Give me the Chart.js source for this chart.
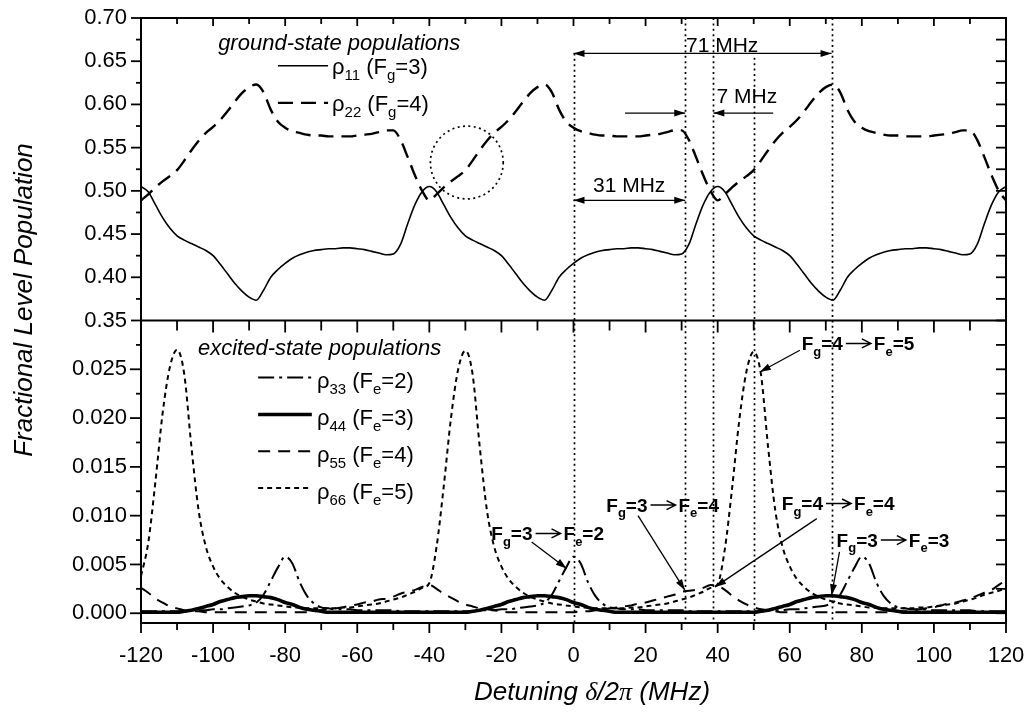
<!DOCTYPE html>
<html>
<head>
<meta charset="utf-8">
<script src="https://cdn.jsdelivr.net/npm/chart.js@4.4.1/dist/chart.umd.min.js"></script>
<style>
  html, body { margin: 0; padding: 0; background: #fff; }
  #wrap { width: 1026px; height: 713px; }
</style>
</head>
<body>
<div id="wrap"><canvas id="popChart" width="1026" height="713"></canvas></div>
<script>
// detuning grid (MHz)
const detuning = [
  -120,-118,-116,-114,-112,-110,-108,-106,-104,-102,
  -100,-98,-96,-94,-92,-90,-88,-86,-84,-82,
  -80,-78,-76,-74,-72,-70,-68,-66,-64,-62,
  -60,-58,-56,-54,-52,-50,-48,-46,-44,-42,
  -40,-38,-36,-34,-32,-30,-28,-26,-24,-22,
  -20,-18,-16,-14,-12,-10,-8,-6,-4,-2,
  0,2,4,6,8,10,12,14,16,18,
  20,22,24,26,28,30,32,34,36,38,
  40,42,44,46,48,50,52,54,56,58,
  60,62,64,66,68,70,72,74,76,78,
  80,82,84,86,88,90,92,94,96,98,
  100,102,104,106,108,110,112,114,116,118,
  120
];

// ground-state populations
const rho11 = [
  0.505,0.499,0.484,0.469,0.457,0.448,0.443,0.439,0.435,0.431,
  0.425,0.415,0.404,0.393,0.384,0.377,0.3735,0.385,0.400,0.409,
  0.416,0.422,0.426,0.429,0.431,0.432,0.433,0.433,0.434,0.434,
  0.433,0.432,0.430,0.428,0.426,0.427,0.438,0.462,0.484,0.499,
  0.505,0.499,0.484,0.469,0.457,0.448,0.443,0.439,0.435,0.431,
  0.425,0.415,0.404,0.393,0.384,0.377,0.3735,0.385,0.400,0.409,
  0.416,0.422,0.426,0.429,0.431,0.432,0.433,0.433,0.434,0.434,
  0.433,0.432,0.430,0.428,0.426,0.427,0.438,0.462,0.484,0.499,
  0.505,0.499,0.484,0.469,0.457,0.448,0.443,0.439,0.435,0.431,
  0.425,0.415,0.404,0.393,0.384,0.377,0.3735,0.385,0.400,0.409,
  0.416,0.422,0.426,0.429,0.431,0.432,0.433,0.433,0.434,0.434,
  0.433,0.432,0.430,0.428,0.426,0.427,0.438,0.462,0.484,0.499,
  0.505
];
const rho22 = [
  0.489,0.496,0.504,0.511,0.517,0.524,0.535,0.547,0.558,0.567,
  0.574,0.582,0.592,0.603,0.613,0.620,0.623,0.614,0.594,0.580,
  0.573,0.569,0.567,0.565,0.564,0.564,0.563,0.563,0.563,0.563,
  0.564,0.565,0.566,0.568,0.570,0.570,0.559,0.539,0.518,0.500,
  0.489,0.496,0.504,0.511,0.517,0.524,0.535,0.547,0.558,0.567,
  0.574,0.582,0.592,0.603,0.613,0.620,0.623,0.614,0.594,0.580,
  0.573,0.569,0.567,0.565,0.564,0.564,0.563,0.563,0.563,0.563,
  0.564,0.565,0.566,0.568,0.570,0.570,0.559,0.539,0.518,0.500,
  0.489,0.496,0.504,0.511,0.517,0.524,0.535,0.547,0.558,0.567,
  0.574,0.582,0.592,0.603,0.613,0.620,0.623,0.614,0.594,0.580,
  0.573,0.569,0.567,0.565,0.564,0.564,0.563,0.563,0.563,0.563,
  0.564,0.565,0.566,0.568,0.570,0.570,0.559,0.539,0.518,0.500,
  0.489
];

// excited-state populations
const rho33 = [
  0.0002,0.0002,0.0002,0.0002,0.0002,0.0002,0.0002,0.0003,0.0003,0.0003,
  0.0004,0.0004,0.0005,0.0006,0.0007,0.0008,0.0011,0.0019,0.0033,0.0047,
  0.0058,0.0051,0.0032,0.0018,0.0010,0.0006,0.0005,0.0004,0.0004,0.0004,
  0.0003,0.0003,0.0003,0.0003,0.0003,0.0003,0.0002,0.0002,0.0002,0.0002,
  0.0002,0.0002,0.0002,0.0002,0.0002,0.0002,0.0002,0.0003,0.0003,0.0003,
  0.0004,0.0004,0.0005,0.0006,0.0007,0.0008,0.0011,0.0019,0.0033,0.0047,
  0.0058,0.0051,0.0032,0.0018,0.0010,0.0006,0.0005,0.0004,0.0004,0.0004,
  0.0003,0.0003,0.0003,0.0003,0.0003,0.0003,0.0002,0.0002,0.0002,0.0002,
  0.0002,0.0002,0.0002,0.0002,0.0002,0.0002,0.0002,0.0003,0.0003,0.0003,
  0.0004,0.0004,0.0005,0.0006,0.0007,0.0008,0.0011,0.0019,0.0033,0.0047,
  0.0058,0.0051,0.0032,0.0018,0.0010,0.0006,0.0005,0.0004,0.0004,0.0004,
  0.0003,0.0003,0.0003,0.0003,0.0003,0.0003,0.0002,0.0002,0.0002,0.0002,
  0.0002
];
const rho44 = [
  0.0001,0.0001,0.0001,0.0001,0.0001,0.0001,0.0002,0.0003,0.0005,0.0007,
  0.0009,0.0012,0.0014,0.0016,0.0017,0.0018,0.0018,0.0017,0.0016,0.0014,
  0.0011,0.0009,0.0006,0.0004,0.0003,0.0002,0.0001,0.0001,0.0001,0.0001,
  0.0001,0.0001,0.0001,0.0001,0.0001,0.0001,0.0001,0.0001,0.0001,0.0001,
  0.0001,0.0001,0.0001,0.0001,0.0001,0.0001,0.0002,0.0003,0.0005,0.0007,
  0.0009,0.0012,0.0014,0.0016,0.0017,0.0018,0.0018,0.0017,0.0016,0.0014,
  0.0011,0.0009,0.0006,0.0004,0.0003,0.0002,0.0001,0.0001,0.0001,0.0001,
  0.0001,0.0001,0.0001,0.0001,0.0001,0.0001,0.0001,0.0001,0.0001,0.0001,
  0.0001,0.0001,0.0001,0.0001,0.0001,0.0001,0.0002,0.0003,0.0005,0.0007,
  0.0009,0.0012,0.0014,0.0016,0.0017,0.0018,0.0018,0.0017,0.0016,0.0014,
  0.0011,0.0009,0.0006,0.0004,0.0003,0.0002,0.0001,0.0001,0.0001,0.0001,
  0.0001,0.0001,0.0001,0.0001,0.0001,0.0001,0.0001,0.0001,0.0001,0.0001,
  0.0001
];
const rho55 = [
  0.0026,0.0021,0.0015,0.0011,0.0007,0.0005,0.0003,0.0002,0.0002,0.0001,
  0.0001,0.0001,0.0001,0.0001,0.0001,0.0001,0.0001,0.0001,0.0001,0.0001,
  0.0001,0.0001,0.0001,0.0001,0.0002,0.0003,0.0004,0.0005,0.0006,0.0008,
  0.0009,0.0011,0.0012,0.0014,0.0015,0.0017,0.0020,0.0022,0.0024,0.0027,
  0.0029,0.0025,0.0020,0.0016,0.0012,0.0009,0.0007,0.0005,0.0004,0.0003,
  0.0002,0.0001,0.0001,0.0001,0.0001,0.0001,0.0001,0.0001,0.0001,0.0001,
  0.0001,0.0002,0.0002,0.0003,0.0004,0.0005,0.0006,0.0007,0.0008,0.0010,
  0.0011,0.0013,0.0015,0.0017,0.0019,0.0022,0.0023,0.0024,0.0026,0.0029,
  0.0028,0.0024,0.0018,0.0013,0.0009,0.0006,0.0004,0.0003,0.0002,0.0001,
  0.0001,0.0001,0.0001,0.0001,0.0001,0.0001,0.0001,0.0001,0.0001,0.0001,
  0.0001,0.0001,0.0001,0.0001,0.0001,0.0002,0.0002,0.0003,0.0004,0.0005,
  0.0006,0.0008,0.0010,0.0011,0.0013,0.0015,0.0018,0.0021,0.0024,0.0029,
  0.0034
];
const rho66 = [
  0.0038,0.0072,0.0135,0.0205,0.0252,0.0270,0.0245,0.0170,0.0105,0.0068,
  0.0048,0.0035,0.0027,0.0021,0.0017,0.0014,0.0012,0.0010,0.0009,0.0008,
  0.0007,0.0006,0.0006,0.0005,0.0005,0.0005,0.0005,0.0005,0.0006,0.0006,
  0.0007,0.0008,0.0009,0.0010,0.0012,0.0014,0.0016,0.0019,0.0022,0.0026,
  0.0031,0.0068,0.0130,0.0200,0.0250,0.0269,0.0245,0.0170,0.0105,0.0068,
  0.0048,0.0035,0.0027,0.0021,0.0017,0.0014,0.0012,0.0010,0.0009,0.0008,
  0.0007,0.0006,0.0006,0.0005,0.0005,0.0005,0.0005,0.0005,0.0006,0.0006,
  0.0007,0.0008,0.0009,0.0010,0.0012,0.0014,0.0016,0.0019,0.0022,0.0026,
  0.0030,0.0066,0.0128,0.0198,0.0248,0.0268,0.0245,0.0170,0.0105,0.0068,
  0.0048,0.0035,0.0027,0.0021,0.0017,0.0014,0.0012,0.0010,0.0009,0.0008,
  0.0007,0.0006,0.0006,0.0005,0.0005,0.0005,0.0005,0.0005,0.0006,0.0006,
  0.0007,0.0008,0.0009,0.0010,0.0012,0.0014,0.0016,0.0019,0.0021,0.0023,
  0.0026
];

// axis ticks
const xTicks = [-120,-100,-80,-60,-40,-20,0,20,40,60,80,100,120];
const topTicks = [0.35,0.40,0.45,0.50,0.55,0.60,0.65,0.70];
const botTicks = [0.000,0.005,0.010,0.015,0.020,0.025];

// dotted marker lines (MHz) and where they start in the upper panel
const markers = [
  { x: 0, from: 0.659 },
  { x: 31, from: null },
  { x: 38.8, from: null },
  { x: 50, from: 0.654 },
  { x: 71.6, from: null }
];

const FONT = "'Liberation Sans', Arial, Helvetica, sans-serif";
const SERIF = "'Liberation Serif', 'Times New Roman', serif";

function line(values, axis, width, dash) {
  return {
    data: detuning.map((x, i) => ({ x: x, y: values[i] })),
    yAxisID: axis,
    borderColor: "#000",
    borderWidth: width,
    borderDash: dash,
    pointRadius: 0,
    cubicInterpolationMode: "monotone",
    fill: false
  };
}

const DASH = {
  r11: [], r22: [15, 8],
  r33: [16, 5, 3, 5], r44: [], r55: [12, 8], r66: [5, 4]
};
const WIDTH = { r11: 1.6, r22: 2.4, r33: 2, r44: 3.6, r55: 2, r66: 2 };

// text drawn as pieces: [text, kind]  kind: n normal, s subscript, a arrow
function rich(ctx, parts, x, y, size, style, family) {
  let cx = x;
  ctx.textAlign = "left";
  ctx.textBaseline = "alphabetic";
  for (const [t, k, fam] of parts) {
    if (k === "a") {
      ctx.save();
      ctx.lineWidth = 1.5;
      ctx.setLineDash([]);
      const yy = y - size * 0.36;
      ctx.beginPath();
      ctx.moveTo(cx + 3, yy); ctx.lineTo(cx + 28, yy);
      ctx.moveTo(cx + 19, yy - 4.5); ctx.lineTo(cx + 28, yy); ctx.lineTo(cx + 19, yy + 4.5);
      ctx.stroke();
      ctx.restore();
      cx += 31;
      continue;
    }
    const sub = k === "s";
    const sz = sub ? Math.round(size * 0.68) : size;
    ctx.font = style + " " + sz + "px " + (fam || family || FONT);
    ctx.fillText(t, cx, sub ? y + size * 0.28 : y);
    cx += ctx.measureText(t).width;
  }
  return cx;
}

function arrowHead(ctx, x1, y1, x2, y2, len, half) {
  const a = Math.atan2(y2 - y1, x2 - x1);
  ctx.beginPath();
  ctx.moveTo(x2, y2);
  ctx.lineTo(x2 - len * Math.cos(a) + half * Math.sin(a), y2 - len * Math.sin(a) - half * Math.cos(a));
  ctx.lineTo(x2 - len * Math.cos(a) - half * Math.sin(a), y2 - len * Math.sin(a) + half * Math.cos(a));
  ctx.closePath();
  ctx.fill();
}

function pointer(ctx, x1, y1, x2, y2, both) {
  ctx.save();
  ctx.setLineDash([]);
  ctx.lineWidth = 1.3;
  ctx.beginPath(); ctx.moveTo(x1, y1); ctx.lineTo(x2, y2); ctx.stroke();
  arrowHead(ctx, x1, y1, x2, y2, 11, 3.5);
  if (both) arrowHead(ctx, x2, y2, x1, y1, 11, 3.5);
  ctx.restore();
}

const decor = {
  id: "decor",
  beforeDatasetsDraw(chart) {
    const { ctx } = chart;
    const { x, yTop, yBot } = chart.scales;
    ctx.save();
    ctx.strokeStyle = "#000";
    ctx.lineWidth = 1.7;
    ctx.setLineDash([2, 3.4]);
    for (const m of markers) {
      const px = Math.round(x.getPixelForValue(m.x)) + 0.5;
      const top = m.from === null ? yTop.top : yTop.getPixelForValue(m.from);
      ctx.beginPath(); ctx.moveTo(px, top); ctx.lineTo(px, yBot.bottom); ctx.stroke();
    }
    // dotted circle
    const cx = x.getPixelForValue(-29.6), cy = yTop.getPixelForValue(0.5328);
    const r = x.getPixelForValue(-29.6 + 10.1) - cx;
    ctx.beginPath(); ctx.arc(cx, cy, r, 0, Math.PI * 2); ctx.stroke();
    ctx.restore();
  },
  afterDatasetsDraw(chart) {
    const { ctx } = chart;
    const { x, yTop, yBot } = chart.scales;
    const X = v => x.getPixelForValue(v);
    const T = v => yTop.getPixelForValue(v);
    const B = v => yBot.getPixelForValue(v);
    ctx.save();
    ctx.strokeStyle = "#000";
    ctx.fillStyle = "#000";
    ctx.setLineDash([]);

    // frame
    ctx.lineWidth = 2;
    ctx.strokeRect(x.left, yTop.top, x.right - x.left, yBot.bottom - yTop.top);
    ctx.beginPath(); ctx.moveTo(x.left, yTop.bottom); ctx.lineTo(x.right, yTop.bottom); ctx.stroke();

    // ticks
    ctx.lineWidth = 1.8;
    const tick = (x1, y1, x2, y2) => { ctx.beginPath(); ctx.moveTo(x1, y1); ctx.lineTo(x2, y2); ctx.stroke(); };
    const xMinor = xTicks.slice(1).map((v, i) => (v + xTicks[i]) / 2);
    for (const v of xTicks) {
      const p = X(v);
      tick(p, yTop.top, p, yTop.top + 8);
      tick(p, yTop.bottom, p, yTop.bottom + 12);
      tick(p, yBot.bottom, p, yBot.bottom + 10);
    }
    for (const v of xMinor) {
      const p = X(v);
      tick(p, yTop.top, p, yTop.top + 6);
      tick(p, yTop.bottom, p, yTop.bottom + 10);
      tick(p, yBot.bottom, p, yBot.bottom + 7);
    }
    const topMinor = topTicks.slice(1).map((v, i) => (v + topTicks[i]) / 2);
    for (const v of topTicks) { const p = T(v); tick(x.left - 10, p, x.left, p); tick(x.right - 10, p, x.right, p); }
    for (const v of topMinor) { const p = T(v); tick(x.left - 5, p, x.left, p); tick(x.right - 10, p, x.right, p); }
    const botMinor = botTicks.map(v => v + 0.0025);
    for (const v of botTicks) { const p = B(v); tick(x.left - 11, p, x.left, p); tick(x.right - 10, p, x.right, p); }
    for (const v of botMinor) { const p = B(v); tick(x.left - 5, p, x.left, p); tick(x.right - 10, p, x.right, p); }

    // axis titles
    ctx.save();
    ctx.translate(32, 300);
    ctx.rotate(-Math.PI / 2);
    ctx.font = "italic 26px " + FONT;
    ctx.textAlign = "center";
    ctx.textBaseline = "alphabetic";
    ctx.fillText("Fractional Level Population", 0, 0);
    ctx.restore();

    const xt = [["Detuning ", "n"], ["\u03B4", "n", SERIF], ["/2", "n"], ["\u03C0", "n", SERIF], [" (MHz)", "n"]];
    let wTot = 0;
    for (const [t, , f] of xt) { ctx.font = "italic 26px " + (f || FONT); wTot += ctx.measureText(t).width; }
    rich(ctx, xt, 592 - wTot / 2, 700, 26, "italic");

    // upper panel labels and legend
    rich(ctx, [["ground-state populations", "n"]], X(-98.6), T(0.6629), 22, "italic");
    ctx.lineWidth = WIDTH.r11; ctx.setLineDash(DASH.r11);
    ctx.beginPath(); ctx.moveTo(X(-82), T(0.6447)); ctx.lineTo(X(-68.1), T(0.6447)); ctx.stroke();
    ctx.lineWidth = WIDTH.r22; ctx.setLineDash(DASH.r22);
    ctx.beginPath(); ctx.moveTo(X(-82), T(0.6018)); ctx.lineTo(X(-68.1), T(0.6018)); ctx.stroke();
    ctx.setLineDash([]);
    rich(ctx, [["\u03C1", "n"], ["11", "s"], [" (F", "n"], ["g", "s"], ["=3)", "n"]], X(-67.0), T(0.6351), 22, "");
    rich(ctx, [["\u03C1", "n"], ["22", "s"], [" (F", "n"], ["g", "s"], ["=4)", "n"]], X(-67.0), T(0.5922), 22, "");

    // frequency spacing arrows
    pointer(ctx, X(0), T(0.659), X(71.6), T(0.659), true);
    rich(ctx, [["71 MHz", "n"]], X(31.2), T(0.6606), 21, "");
    pointer(ctx, X(14.3), T(0.590), X(31), T(0.590), false);
    pointer(ctx, X(55.4), T(0.590), X(38.8), T(0.590), false);
    rich(ctx, [["7 MHz", "n"]], X(39.7), T(0.6015), 21, "");
    pointer(ctx, X(0), T(0.489), X(31), T(0.489), true);
    rich(ctx, [["31 MHz", "n"]], X(5.4), T(0.4987), 21, "");

    // lower panel labels and legend
    rich(ctx, [["excited-state populations", "n"]], X(-104.2), B(0.02643), 22, "italic");
    const leg = [
      ["33", "2", "r33", 0.02415, 0.02305],
      ["44", "3", "r44", 0.02036, 0.01926],
      ["55", "4", "r55", 0.0166, 0.0155],
      ["66", "5", "r66", 0.01284, 0.01175]
    ];
    for (const [idx, fe, key, yl, yt] of leg) {
      ctx.lineWidth = WIDTH[key]; ctx.setLineDash(DASH[key]);
      ctx.beginPath(); ctx.moveTo(X(-87.5), B(yl)); ctx.lineTo(X(-72.6), B(yl)); ctx.stroke();
      ctx.setLineDash([]);
      rich(ctx, [["\u03C1", "n"], [idx, "s"], [" (F", "n"], ["e", "s"], ["=" + fe + ")", "n"]], X(-71.2), B(yt), 22, "");
    }

    // transition annotations
    const trans = [
      { g: "3", e: "2", tx: -22.8, ty: 0.00748, from: [-11.6, 0.0073], to: [-1.9, 0.00458] },
      { g: "3", e: "4", tx: 9.1, ty: 0.01038, from: [17.9, 0.0100], to: [30.9, 0.00236] },
      { g: "4", e: "5", tx: 63.3, ty: 0.02695, from: [62.8, 0.02695], to: [51.7, 0.02472] },
      { g: "4", e: "4", tx: 57.8, ty: 0.01055, from: [67.5, 0.0097], to: [39.3, 0.0027] },
      { g: "3", e: "3", tx: 73.0, ty: 0.0068, from: [73.8, 0.0063], to: [71.6, 0.00184] }
    ];
    for (const t of trans) {
      rich(ctx, [["F", "n"], ["g", "s"], ["=" + t.g, "n"], ["", "a"], ["F", "n"], ["e", "s"], ["=" + t.e, "n"]],
        X(t.tx), B(t.ty), 19, "bold");
      pointer(ctx, X(t.from[0]), B(t.from[1]), X(t.to[0]), B(t.to[1]), false);
    }
    ctx.restore();
  }
};

const tickFont = { family: FONT, size: 22 };

// keep the plot frame where the figure has it: no extra room for edge labels
function fitY(s) { s.width = 141; s.paddingTop = 0; s.paddingBottom = 0; }

new Chart(document.getElementById("popChart"), {
  type: "line",
  data: {
    datasets: [
      line(rho11, "yTop", WIDTH.r11, DASH.r11),
      line(rho22, "yTop", WIDTH.r22, DASH.r22),
      line(rho33, "yBot", WIDTH.r33, DASH.r33),
      line(rho55, "yBot", WIDTH.r55, DASH.r55),
      line(rho66, "yBot", WIDTH.r66, DASH.r66),
      line(rho44, "yBot", WIDTH.r44, DASH.r44)
    ]
  },
  options: {
    responsive: false,
    animation: false,
    events: [],
    layout: { padding: { top: 18, right: 20, left: 0, bottom: 0 } },
    plugins: { legend: { display: false }, tooltip: { enabled: false } },
    scales: {
      x: {
        type: "linear", min: -120, max: 120,
        afterBuildTicks: s => { s.ticks = xTicks.map(v => ({ value: v })); },
        afterFit: s => { s.height = 90; s.paddingLeft = 0; s.paddingRight = 0; },
        grid: { display: false, drawTicks: false },
        border: { display: false },
        ticks: { padding: 20, color: "#000", font: tickFont, maxRotation: 0, autoSkip: false, callback: v => String(v) }
      },
      yBot: {
        type: "linear", position: "left", stack: "panels", stackWeight: 1,
        min: -0.001, max: 0.030,
        afterBuildTicks: s => { s.ticks = botTicks.map(v => ({ value: v })); },
        afterFit: fitY,
        grid: { display: false, drawTicks: false },
        border: { display: false },
        ticks: { padding: 14, color: "#000", font: tickFont, autoSkip: false, callback: v => v.toFixed(3) }
      },
      yTop: {
        type: "linear", position: "left", stack: "panels", stackWeight: 1,
        min: 0.35, max: 0.70,
        afterBuildTicks: s => { s.ticks = topTicks.map(v => ({ value: v })); },
        afterFit: fitY,
        grid: { display: false, drawTicks: false },
        border: { display: false },
        ticks: { padding: 14, color: "#000", font: tickFont, autoSkip: false, callback: v => v.toFixed(2) }
      }
    }
  },
  plugins: [decor]
});
</script>
</body>
</html>
